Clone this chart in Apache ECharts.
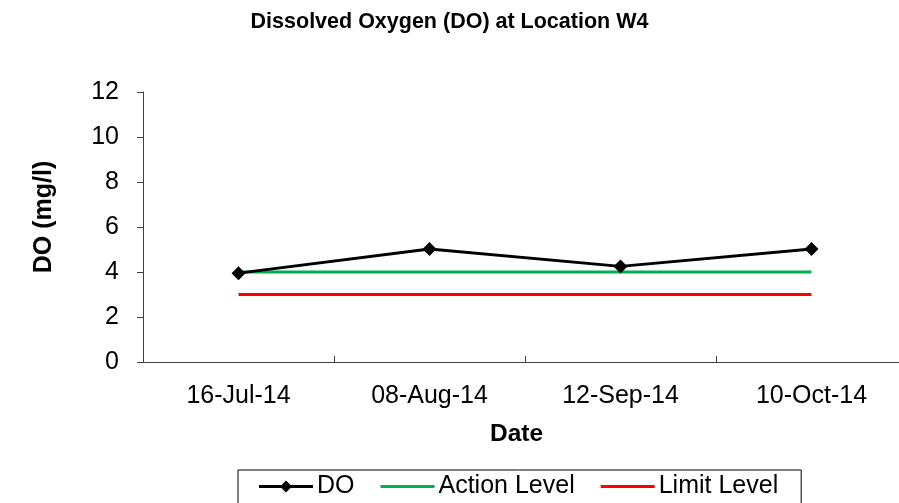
<!DOCTYPE html>
<html><head><meta charset="utf-8">
<script src="https://cdn.jsdelivr.net/npm/echarts@6/dist/echarts.min.js"></script>
<style>html,body{margin:0;padding:0;background:#fff}#c{width:899px;height:503px}</style>
</head><body><div id="c"></div>
<script>
const categories = ['16-Jul-14', '08-Aug-14', '12-Sep-14', '10-Oct-14'];
const doValues = [3.95, 5.02, 4.25, 5.02];
const actionLevel = [4, 4, 4, 4];
const limitLevel = [3, 3, 3, 3];
const yTicks = [0, 2, 4, 6, 8, 10, 12];

// category i is drawn at the centre of its band (i + 0.5) on a value scale
const toPoints = vals => vals.map((v, i) => [i + 0.5, v]);
const xMax = 3.958; // plot area runs past the right edge of the picture, as in the original

const lineIcon = 'path://M0,4.5 L54,4.5 L54,7.5 L0,7.5 Z';
const lineDiamondIcon = 'path://M0,4.5 L54,4.5 L54,7.5 L0,7.5 Z M27,0 L33,6 L27,12 L21,6 Z';

const chart = echarts.init(document.getElementById('c'));
const font = '"Liberation Sans", Arial, sans-serif';
chart.setOption({
  animation: false,
  textStyle: { fontFamily: font },
  title: {
    text: 'Dissolved Oxygen (DO) at Location W4',
    left: 'center', top: 6,
    textStyle: { fontFamily: font, fontWeight: 'bold', fontSize: 21.5, color: '#000' }
  },
  grid: { left: 143, top: 92, right: 0, height: 270, containLabel: false },
  legend: {
    top: 470, left: 238,
    itemGap: 26, itemWidth: 54, itemHeight: 12,
    borderColor: '#000', borderWidth: 1, borderRadius: 0,
    padding: [4, 23, 30, 21],
    textStyle: { fontFamily: font, fontSize: 25, color: '#000', padding: [0, 0, 0, -1] },
    data: [
      { name: 'DO', icon: lineDiamondIcon },
      { name: 'Action Level', icon: lineIcon },
      { name: 'Limit Level', icon: lineIcon }
    ]
  },
  xAxis: [{
    type: 'value', min: 0, max: xMax, interval: 0.5,
    name: 'Date', nameLocation: 'middle', nameGap: 60,
    nameTextStyle: { fontFamily: font, fontWeight: 'bold', fontSize: 24.5, color: '#000', padding: [0, 9, 0, 0] },
    axisLine: { show: true, onZero: false, lineStyle: { color: '#404040', width: 1 } },
    axisTick: { show: false },
    axisLabel: { fontFamily: font, fontSize: 25, color: '#000', margin: 22, showMaxLabel: false,
      formatter: v => {
        const i = Math.floor(v);
        return Math.abs(v - i - 0.5) < 1e-6 && categories[i] ? categories[i] : '';
      } },
    splitLine: { show: false }
  }, {
    type: 'value', min: 0, max: xMax, interval: 1, position: 'bottom',
    axisLine: { show: false },
    axisTick: { show: true, inside: true, length: 6, lineStyle: { color: '#404040' } },
    axisLabel: { show: false },
    splitLine: { show: false }
  }],
  yAxis: {
    type: 'value', min: 0, max: 12, interval: 2,
    name: 'DO (mg/l)', nameLocation: 'middle', nameGap: 86, nameRotate: 90,
    nameTextStyle: { fontFamily: font, fontWeight: 'bold', fontSize: 25, color: '#000', padding: [0, 0, 0, 20] },
    axisLine: { show: true, lineStyle: { color: '#404040', width: 1 } },
    axisTick: { show: true, inside: false, length: 6, lineStyle: { color: '#404040' } },
    axisLabel: { fontFamily: font, fontSize: 25, color: '#000', margin: 24,
      formatter: v => yTicks.includes(v) ? String(v) : '' },
    splitLine: { show: false }
  },
  series: [
    { name: 'DO', type: 'line', data: toPoints(doValues), z: 5,
      symbol: 'diamond', symbolSize: 14,
      lineStyle: { color: '#000', width: 3 }, itemStyle: { color: '#000' } },
    { name: 'Action Level', type: 'line', data: toPoints(actionLevel), symbol: 'none', z: 4,
      lineStyle: { color: '#00b050', width: 3 }, itemStyle: { color: '#00b050' } },
    { name: 'Limit Level', type: 'line', data: toPoints(limitLevel), symbol: 'none',
      lineStyle: { color: '#ff0000', width: 3 }, itemStyle: { color: '#ff0000' } }
  ]
});
</script></body></html>
